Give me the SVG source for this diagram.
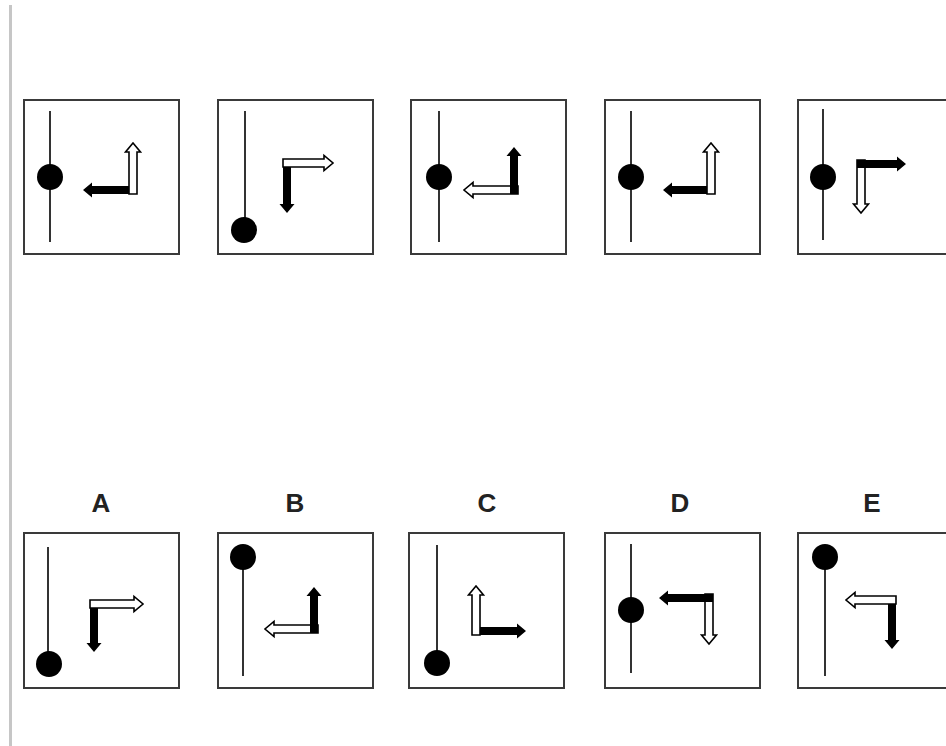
<svg xmlns="http://www.w3.org/2000/svg" width="946" height="746" viewBox="0 0 946 746">
<style>
.box{fill:#fff;stroke:#3a3a3a;stroke-width:2}
.rod{stroke:#333;stroke-width:2}
.dot{fill:#000}
.blk{fill:#000}
.wht{fill:#fff;stroke:#000;stroke-width:1.6}
.lbl{font-family:"Liberation Sans",Arial,sans-serif;font-weight:bold;font-size:26px;fill:#222;text-anchor:middle}
</style>
<rect width="946" height="746" fill="#fff"/>
<line x1="10.5" y1="5" x2="10.5" y2="746" stroke="#c6c6c6" stroke-width="3"/>

<g id="p1">
<rect class="box" x="24" y="100" width="155" height="154"/>
<line class="rod" x1="50" y1="111" x2="50" y2="242"/>
<circle class="dot" cx="50" cy="177" r="13"/>
<path class="blk" transform="translate(133,190) rotate(180)" d="M-4,-4H41V-7.5L50,0L41,7.5V4H-4Z"/>
<path class="wht" transform="translate(133,190) rotate(-90)" d="M-4,-4H38V-7.5L47,0L38,7.5V4H-4Z"/>
</g>

<g id="p2">
<rect class="box" x="218" y="100" width="155" height="154"/>
<line class="rod" x1="245" y1="111" x2="245" y2="228"/>
<circle class="dot" cx="244" cy="230" r="13"/>
<path class="blk" transform="translate(287,163) rotate(90)" d="M-4,-4H41V-7.5L50,0L41,7.5V4H-4Z"/>
<path class="wht" transform="translate(287,163)" d="M-4,-4H37V-7.5L46,0L37,7.5V4H-4Z"/>
</g>

<g id="p3">
<rect class="box" x="411" y="100" width="155" height="154"/>
<line class="rod" x1="439" y1="111" x2="439" y2="242"/>
<circle class="dot" cx="439" cy="177" r="13"/>
<path class="wht" transform="translate(514,190) rotate(180)" d="M-4,-4H41V-7.5L50,0L41,7.5V4H-4Z"/>
<path class="blk" transform="translate(514,190) rotate(-90)" d="M-4,-4H34V-7.5L43,0L34,7.5V4H-4Z"/>
</g>

<g id="p4">
<rect class="box" x="605" y="100" width="155" height="154"/>
<line class="rod" x1="631" y1="111" x2="631" y2="242"/>
<circle class="dot" cx="631" cy="177" r="13"/>
<path class="blk" transform="translate(711,190) rotate(180)" d="M-4,-4H39V-7.5L48,0L39,7.5V4H-4Z"/>
<path class="wht" transform="translate(711,190) rotate(-90)" d="M-4,-4H38V-7.5L47,0L38,7.5V4H-4Z"/>
</g>

<g id="p5">
<rect class="box" x="798" y="100" width="155" height="154"/>
<line class="rod" x1="823" y1="109" x2="823" y2="240"/>
<circle class="dot" cx="823" cy="177" r="13"/>
<path class="wht" transform="translate(861,164) rotate(90)" d="M-4,-4H40V-7.5L49,0L40,7.5V4H-4Z"/>
<path class="blk" transform="translate(861,164)" d="M-4,-4H36V-7.5L45,0L36,7.5V4H-4Z"/>
</g>

<g id="optA">
<text class="lbl" x="101" y="512">A</text>
<rect class="box" x="24" y="533" width="155" height="155"/>
<line class="rod" x1="48" y1="547" x2="48" y2="662"/>
<circle class="dot" cx="49" cy="664" r="13"/>
<path class="blk" transform="translate(94,604) rotate(90)" d="M-4,-4H39V-7.5L48,0L39,7.5V4H-4Z"/>
<path class="wht" transform="translate(94,604)" d="M-4,-4H40V-7.5L49,0L40,7.5V4H-4Z"/>
</g>

<g id="optB">
<text class="lbl" x="295" y="512">B</text>
<rect class="box" x="218" y="533" width="155" height="155"/>
<line class="rod" x1="243" y1="559" x2="243" y2="676"/>
<circle class="dot" cx="243" cy="557" r="13"/>
<path class="wht" transform="translate(314,629) rotate(180)" d="M-4,-4H40V-7.5L49,0L40,7.5V4H-4Z"/>
<path class="blk" transform="translate(314,629) rotate(-90)" d="M-4,-4H33V-7.5L42,0L33,7.5V4H-4Z"/>
</g>

<g id="optC">
<text class="lbl" x="487" y="512">C</text>
<rect class="box" x="409" y="533" width="155" height="155"/>
<line class="rod" x1="437" y1="545" x2="437" y2="661"/>
<circle class="dot" cx="437" cy="663" r="13"/>
<path class="blk" transform="translate(476,631)" d="M-4,-4H41V-7.5L50,0L41,7.5V4H-4Z"/>
<path class="wht" transform="translate(476,631) rotate(-90)" d="M-4,-4H36V-7.5L45,0L36,7.5V4H-4Z"/>
</g>

<g id="optD">
<text class="lbl" x="680" y="512">D</text>
<rect class="box" x="605" y="533" width="155" height="155"/>
<line class="rod" x1="631" y1="544" x2="631" y2="673"/>
<circle class="dot" cx="631" cy="610" r="13"/>
<path class="wht" transform="translate(709,598) rotate(90)" d="M-4,-4H37V-7.5L46,0L37,7.5V4H-4Z"/>
<path class="blk" transform="translate(709,598) rotate(180)" d="M-4,-4H41V-7.5L50,0L41,7.5V4H-4Z"/>
</g>

<g id="optE">
<text class="lbl" x="872" y="512">E</text>
<rect class="box" x="798" y="533" width="155" height="155"/>
<line class="rod" x1="825" y1="559" x2="825" y2="676"/>
<circle class="dot" cx="825" cy="557" r="13"/>
<path class="blk" transform="translate(892,600) rotate(90)" d="M-4,-4H40V-7.5L49,0L40,7.5V4H-4Z"/>
<path class="wht" transform="translate(892,600) rotate(180)" d="M-4,-4H37V-7.5L46,0L37,7.5V4H-4Z"/>
</g>
</svg>
